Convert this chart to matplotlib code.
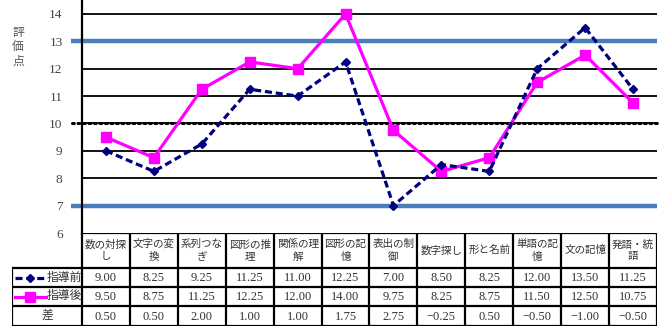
import matplotlib
matplotlib.use('Agg')
import matplotlib.pyplot as plt

plt.rcParams['font.family'] = ['Liberation Serif', 'Noto Sans CJK JP', 'DejaVu Sans']

# subtests and scores
items = ['数の対探\nし', '文字の変\n換', '系列つな\nぎ', '図形の推\n理', '関係の理\n解',
         '図形の記\n憶', '表出の制\n御', '数字探し', '形と名前', '単語の記\n憶',
         '文の記憶', '発語・統\n語']
before = [9.00, 8.25, 9.25, 11.25, 11.00, 12.25, 7.00, 8.50, 8.25, 12.00, 13.50, 11.25]
after = [9.50, 8.75, 11.25, 12.25, 12.00, 14.00, 9.75, 8.25, 8.75, 11.50, 12.50, 10.75]
diff = [0.50, 0.50, 2.00, 1.00, 1.00, 1.75, 2.75, -0.25, 0.50, -0.50, -1.00, -0.50]
yticks = [6, 7, 8, 9, 10, 11, 12, 13, 14]
band = [7, 13]
mean = 10

W, H = 661, 329
fig = plt.figure(figsize=(W / 100, H / 100), dpi=100)

x0, x1 = 82, 657
ytop, ybot = 0, 233
ax = fig.add_axes([x0 / W, 1 - ybot / H, (x1 - x0) / W, (ybot - ytop) / H])
n = len(items)
xs = list(range(n))
ax.set_xlim(-0.5, n - 0.5)
ax.set_ylim(6, 14.51)
for s in ['top', 'right', 'bottom']:
    ax.spines[s].set_visible(False)
ax.spines['left'].set_linewidth(1.6)
ax.set_xticks([])
ax.set_yticks(yticks)
ax.set_yticklabels([str(v) for v in yticks], fontsize=9.5, color='#444444')
ax.tick_params(axis='y', length=0, pad=14)

for v in yticks[1:]:
    ax.axhline(v, color='black', lw=1.3, zorder=1)
for v in band:
    ax.plot([-0.72, n - 0.5], [v, v], color='#4a7ebb', lw=3.2, clip_on=False,
            solid_capstyle='butt', zorder=2)
ax.plot([-0.7, n - 0.5], [mean, mean], color='black', lw=2.2, ls=(0, (0.6, 1.2)),
        dash_capstyle='round', clip_on=False, zorder=2)

dash = (0, (2.2, 1.2))
ax.plot(xs, after, color='#ff00ff', lw=2.3, marker='s', ms=7, zorder=3)
ax.plot(xs, before, color='#000080', lw=2.3, ls=dash, marker='D', ms=4.5, zorder=4)

fig.text(18 / W, 1 - 47 / H, '評\n価\n点', fontsize=8.5, color='#555555',
         ha='center', va='center', linespacing=1.25)

# data table under the plot
tx0 = 12
colw = (x1 - x0) / n
lab_w = (x0 - tx0) / colw
tax = fig.add_axes([tx0 / W, 1 - 326 / H, (x1 - tx0) / W, (326 - ybot) / H])
tax.set_xlim(-0.5 - lab_w, n - 0.5)
tax.set_ylim(93, 0)
tax.axis('off')
rows = [0, 35, 54, 73, 93]
lw = 1.6
tax.plot([-0.5, n - 0.5], [rows[0], rows[0]], color='black', lw=lw)
for r in rows[1:]:
    tax.plot([-0.5 - lab_w, n - 0.5], [r, r], color='black', lw=lw)
for i in range(n + 1):
    tax.plot([i - 0.5, i - 0.5], [rows[0], rows[-1]], color='black', lw=lw)
tax.plot([-0.5 - lab_w] * 2, [rows[1], rows[-1]], color='black', lw=lw)

tc = '#333333'
for i, lab in enumerate(items):
    tax.text(i, (rows[0] + rows[1]) / 2, lab, ha='center', va='center', fontsize=7.6,
             color=tc, linespacing=1.35)
for r, vals in enumerate([before, after, diff]):
    yc = (rows[r + 1] + rows[r + 2]) / 2
    for i, v in enumerate(vals):
        txt = f'{v:.2f}'.replace('-', '−')
        tax.text(i, yc + 0.5, txt, ha='center', va='center', fontsize=9, color=tc)

# legend keys in the first column
lx = -0.5 - lab_w
y1 = (rows[1] + rows[2]) / 2
y2 = (rows[2] + rows[3]) / 2
y3 = (rows[3] + rows[4]) / 2
tax.plot([lx + 0.06, lx + 0.7], [y1, y1], color='#000080', lw=2.3, ls=dash)
tax.plot([lx + 0.38], [y1], color='#000080', marker='D', ms=4.5)
tax.plot([lx + 0.06, lx + 0.7], [y2, y2], color='#ff00ff', lw=2.3)
tax.plot([lx + 0.38], [y2], color='#ff00ff', marker='s', ms=7)
tax.text(lx + 0.73, y1, '指導前', ha='left', va='center', fontsize=8.5, color=tc)
tax.text(lx + 0.73, y2, '指導後', ha='left', va='center', fontsize=8.5, color=tc)
tax.text(-0.5 - lab_w / 2, y3, '差', ha='center', va='center', fontsize=8.5, color=tc)

fig.savefig('out.png', dpi=100)
